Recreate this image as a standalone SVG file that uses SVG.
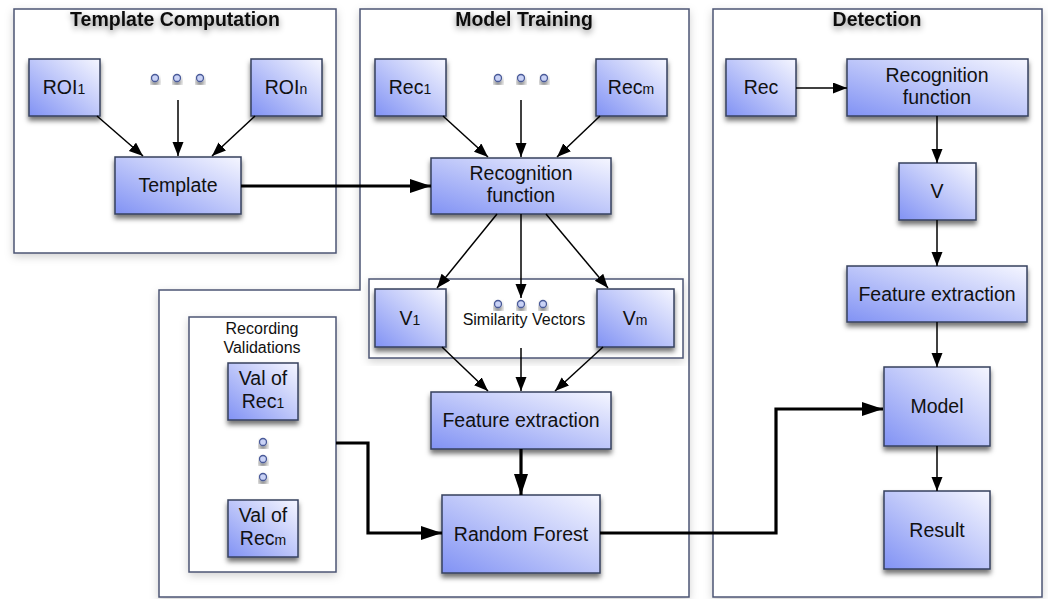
<svg xmlns="http://www.w3.org/2000/svg" width="1048" height="599" viewBox="0 0 1048 599">
<defs>
<linearGradient id="ng" x1="0" y1="1" x2="1" y2="0">
<stop offset="0" stop-color="#8192f4"/>
<stop offset="0.55" stop-color="#c3cbfa"/>
<stop offset="1" stop-color="#f5f6ff"/>
</linearGradient>
<filter id="sh" x="-20%" y="-20%" width="150%" height="160%">
<feDropShadow dx="0" dy="4" stdDeviation="2.5" flood-color="#000" flood-opacity="0.55"/>
</filter>
<filter id="gsh" x="-10%" y="-10%" width="120%" height="120%">
<feDropShadow dx="0" dy="3" stdDeviation="4" flood-color="#000" flood-opacity="0.18"/>
</filter>
<filter id="tsh" x="-20%" y="-50%" width="140%" height="220%">
<feDropShadow dx="0" dy="3" stdDeviation="3" flood-color="#000" flood-opacity="0.45"/>
</filter>
<marker id="ah" markerUnits="userSpaceOnUse" markerWidth="15" markerHeight="12" refX="14" refY="5.5" orient="auto">
<path d="M0,0 L14,5.5 L0,11 z" fill="#000"/>
</marker>
<marker id="ahb" markerUnits="userSpaceOnUse" markerWidth="22" markerHeight="15" refX="21" refY="7" orient="auto">
<path d="M0,0 L21,7 L0,14 z" fill="#000"/>
</marker>
</defs>
<style>
.grp{fill:#fff;stroke:#4c5674;stroke-width:1.5;filter:url(#gsh)}
.node rect{fill:url(#ng);stroke:#36405e;stroke-width:1.5;filter:url(#sh)}
text{font-family:"Liberation Sans",Arial,sans-serif;fill:#111}
.lbl{font-size:19.5px;text-anchor:middle}
.sub{font-size:14px}
.ttl{font-size:19.5px;font-weight:bold;text-anchor:middle;filter:url(#tsh)}
.small{font-size:16px;text-anchor:middle}
.dot{fill:#c9d2f6;stroke:#4a5a98;stroke-width:1.3;filter:url(#sh)}
.thin{fill:none;stroke:#000;stroke-width:1.5;marker-end:url(#ah)}
.thick{fill:none;stroke:#000;stroke-width:3.2;marker-end:url(#ahb)}
</style>
<rect width="1048" height="599" fill="#fff"/>

<g id="template-computation">
<rect class="grp" x="14" y="9" width="322" height="244"/>
<text class="ttl" x="175" y="26">Template Computation</text>
</g>
<g id="model-training">
<path class="grp" d="M360,9 H689 V597 H159 V290 H360 Z"/>
<text class="ttl" x="524" y="26">Model Training</text>
</g>
<g id="detection">
<rect class="grp" x="713" y="9" width="329" height="588"/>
<text class="ttl" x="877" y="26">Detection</text>
</g>
<g id="similarity-vectors">
<rect class="grp" x="369" y="279" width="314" height="79"/>
<text class="small" x="524" y="325">Similarity Vectors</text>
<circle class="dot" cx="498" cy="304" r="3.5"/>
<circle class="dot" cx="521" cy="304" r="3.5"/>
<circle class="dot" cx="543" cy="304" r="3.5"/>
</g>
<g id="recording-validations">
<rect class="grp" x="189" y="317" width="147" height="255"/>
<text class="small" x="262" y="334">Recording</text>
<text class="small" x="262" y="353">Validations</text>
<circle class="dot" cx="263" cy="442" r="3.5"/>
<circle class="dot" cx="263" cy="459" r="3.5"/>
<circle class="dot" cx="263" cy="477" r="3.5"/>
</g>

<g id="dots-roi">
<circle class="dot" cx="155" cy="78" r="3.5"/>
<circle class="dot" cx="177" cy="78" r="3.5"/>
<circle class="dot" cx="200" cy="78" r="3.5"/>
</g>
<g id="dots-rec">
<circle class="dot" cx="498" cy="78" r="3.5"/>
<circle class="dot" cx="521" cy="78" r="3.5"/>
<circle class="dot" cx="544" cy="78" r="3.5"/>
</g>

<g id="roi1" class="node"><rect x="29" y="59" width="71" height="57"/><text class="lbl" x="64" y="94">ROI<tspan class="sub">1</tspan></text></g>
<g id="roin" class="node"><rect x="251" y="59" width="71" height="57"/><text class="lbl" x="286" y="94">ROI<tspan class="sub">n</tspan></text></g>
<g id="template" class="node"><rect x="115" y="157" width="126" height="57"/><text class="lbl" x="178" y="192">Template</text></g>

<g id="rec1" class="node"><rect x="375" y="59" width="71" height="57"/><text class="lbl" x="410" y="94">Rec<tspan class="sub">1</tspan></text></g>
<g id="recm" class="node"><rect x="596" y="59" width="71" height="57"/><text class="lbl" x="631" y="94">Rec<tspan class="sub">m</tspan></text></g>
<g id="recognition-mt" class="node"><rect x="431" y="158" width="180" height="56"/><text class="lbl" x="521" y="180">Recognition</text><text class="lbl" x="521" y="202">function</text></g>
<g id="v1" class="node"><rect x="375" y="289" width="71" height="58"/><text class="lbl" x="410" y="325">V<tspan class="sub">1</tspan></text></g>
<g id="vm" class="node"><rect x="597" y="289" width="77" height="58"/><text class="lbl" x="635" y="325">V<tspan class="sub">m</tspan></text></g>
<g id="feature-mt" class="node"><rect x="431" y="392" width="180" height="57"/><text class="lbl" x="521" y="427">Feature extraction</text></g>
<g id="random-forest" class="node"><rect x="442" y="495" width="158" height="78"/><text class="lbl" x="521" y="541">Random Forest</text></g>
<g id="valrec1" class="node"><rect x="228" y="363" width="70" height="57"/><text class="lbl" x="263" y="385">Val of</text><text class="lbl" x="263" y="408">Rec<tspan class="sub">1</tspan></text></g>
<g id="valrecm" class="node"><rect x="228" y="500" width="70" height="57"/><text class="lbl" x="263" y="522">Val of</text><text class="lbl" x="263" y="545">Rec<tspan class="sub">m</tspan></text></g>

<g id="rec" class="node"><rect x="726" y="59" width="70" height="57"/><text class="lbl" x="761" y="94">Rec</text></g>
<g id="recognition-det" class="node"><rect x="847" y="59" width="181" height="57"/><text class="lbl" x="937" y="82">Recognition</text><text class="lbl" x="937" y="104">function</text></g>
<g id="v" class="node"><rect x="899" y="163" width="77" height="57"/><text class="lbl" x="937" y="198">V</text></g>
<g id="feature-det" class="node"><rect x="847" y="266" width="180" height="56"/><text class="lbl" x="937" y="301">Feature extraction</text></g>
<g id="model" class="node"><rect x="884" y="367" width="106" height="79"/><text class="lbl" x="937" y="413">Model</text></g>
<g id="result" class="node"><rect x="884" y="491" width="106" height="78"/><text class="lbl" x="937" y="537">Result</text></g>

<g id="connectors">
<line class="thin" x1="97" y1="116" x2="143" y2="156"/>
<line class="thin" x1="178" y1="100" x2="178" y2="156"/>
<line class="thin" x1="255" y1="116" x2="212" y2="156"/>
<path class="thick" d="M241,186 H431"/>
<line class="thin" x1="443" y1="116" x2="488" y2="157"/>
<line class="thin" x1="521" y1="100" x2="521" y2="157"/>
<line class="thin" x1="600" y1="116" x2="557" y2="157"/>
<line class="thin" x1="497" y1="214" x2="437" y2="288"/>
<line class="thin" x1="521" y1="214" x2="521" y2="298"/>
<line class="thin" x1="546" y1="214" x2="608" y2="288"/>
<line class="thin" x1="442" y1="347" x2="488" y2="391"/>
<line class="thin" x1="521" y1="348" x2="521" y2="391"/>
<line class="thin" x1="603" y1="347" x2="555" y2="391"/>
<path class="thick" d="M521,449 V495"/>
<path class="thick" d="M336,443 H368 V533 H442"/>
<path class="thick" d="M600,533 H776 V409 H883"/>
<line class="thin" x1="796" y1="88" x2="847" y2="88"/>
<line class="thin" x1="937" y1="116" x2="937" y2="163"/>
<line class="thin" x1="937" y1="220" x2="937" y2="266"/>
<line class="thin" x1="937" y1="322" x2="937" y2="367"/>
<line class="thin" x1="937" y1="446" x2="937" y2="491"/>
</g>
</svg>
